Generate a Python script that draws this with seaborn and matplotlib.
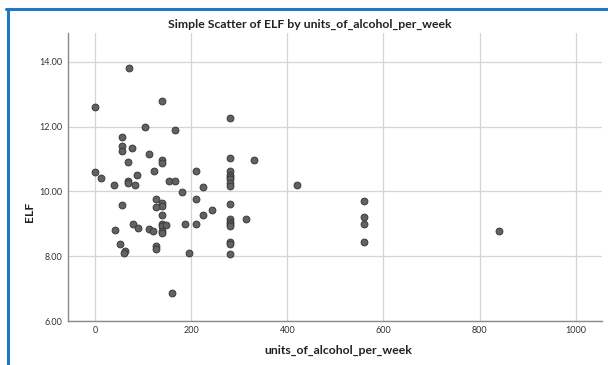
import matplotlib
matplotlib.use("Agg")
import matplotlib.pyplot as plt
from matplotlib.lines import Line2D
import seaborn as sns
import pandas as pd

units = [70, 0, 140, 104, 167, 56, 56, 56, 77, 111, 140, 140, 69, 0, 13, 40, 69, 69,
         83, 87, 122, 153, 167, 180,
         56, 126, 140, 140, 126, 140, 187, 79, 90, 42, 112, 120, 140, 140, 147, 140, 140,
         52, 63, 60, 126, 126, 160,
         280, 280, 330, 209, 280, 280, 280, 280, 280, 280, 224, 209, 280, 244, 224, 314,
         280, 280, 280, 280, 209, 280, 280, 196, 280,
         420, 560, 560, 560, 560, 840]
elf = [13.79, 12.59, 12.78, 12.00, 11.89, 11.68, 11.40, 11.25, 11.33, 11.14, 10.98, 10.87,
       10.92, 10.60, 10.41, 10.20, 10.33, 10.26, 10.20, 10.51, 10.62, 10.31, 10.32, 9.97,
       9.59, 9.77, 9.63, 9.56, 9.51, 9.27, 9.00, 9.01, 8.87, 8.81, 8.85, 8.79, 8.99, 8.94,
       8.98, 8.79, 8.73, 8.38, 8.16, 8.10, 8.31, 8.22, 6.88,
       12.25, 11.02, 10.97, 10.63, 10.62, 10.52, 10.45, 10.38, 10.25, 10.17, 10.14, 9.76,
       9.61, 9.42, 9.26, 9.15, 9.14, 9.07, 9.00, 8.93, 8.99, 8.45, 8.37, 8.10, 8.06,
       10.19, 9.71, 9.22, 9.00, 8.45, 8.79]

x_ticks = [0, 200, 400, 600, 800, 1000]
y_ticks = [6, 8, 10, 12, 14]
y_tick_labels = ["6.00", "8.00", "10.00", "12.00", "14.00"]

df = pd.DataFrame({"units_of_alcohol_per_week": units, "ELF": elf})

sns.set_style("white")
plt.rcParams["font.family"] = ["Lato", "DejaVu Sans"]

fig = plt.figure(figsize=(6.08, 3.65), dpi=100)
ax = fig.add_axes([68.3 / 608, 43.7 / 365, (602 - 68.3) / 608, (321.3 - 33) / 365])

sns.scatterplot(data=df, x="units_of_alcohol_per_week", y="ELF", ax=ax,
                s=24, color="#626262", edgecolor="#3a3a3a", linewidth=0.7, zorder=3)

ax.set_xlim(-56, 1055)
ax.set_ylim(6, 14.88)
ax.set_xticks(x_ticks)
ax.set_yticks(y_ticks)
ax.set_yticklabels(y_tick_labels)
ax.grid(True, color="#d4d4d4", linewidth=0.9, zorder=0)
ax.set_axisbelow(True)
for s in ["top", "right"]:
    ax.spines[s].set_visible(False)
for s in ["left", "bottom"]:
    ax.spines[s].set_color("#8a8a8a")
    ax.spines[s].set_linewidth(1.0)
ax.tick_params(axis="both", length=0, labelsize=6.5, colors="#333333", pad=4)
ax.tick_params(axis="x", pad=3.5)
ax.set_xlabel("units_of_alcohol_per_week", fontsize=8.8, fontweight="bold", color="#222222")
ax.set_ylabel("ELF", fontsize=8.8, fontweight="bold", color="#222222")
ax.xaxis.set_label_coords((338 - 68.3) / (602 - 68.3), -(350 - 321.3) / (321.3 - 33))
ax.yaxis.set_label_coords((30 - 68.3) / (602 - 68.3), (321.3 - 212) / (321.3 - 33))
ax.xaxis.label.set_va("center")
ax.yaxis.label.set_va("center")

fig.text(309.5 / 608, 1 - 24 / 365, "Simple Scatter of ELF by units_of_alcohol_per_week",
         ha="center", va="center", fontsize=8.8, fontweight="bold", color="#222222")

# selection frame (blue border on left and top)
fig.add_artist(Line2D([7.5 / 608, 7.5 / 608], [0, 1 - 8.5 / 365], transform=fig.transFigure,
                      color="#2277c4", linewidth=2.2))
fig.add_artist(Line2D([6.4 / 608, 1], [1 - 9 / 365, 1 - 9 / 365], transform=fig.transFigure,
                      color="#2277c4", linewidth=2.2))

fig.savefig("out.png", dpi=100)
